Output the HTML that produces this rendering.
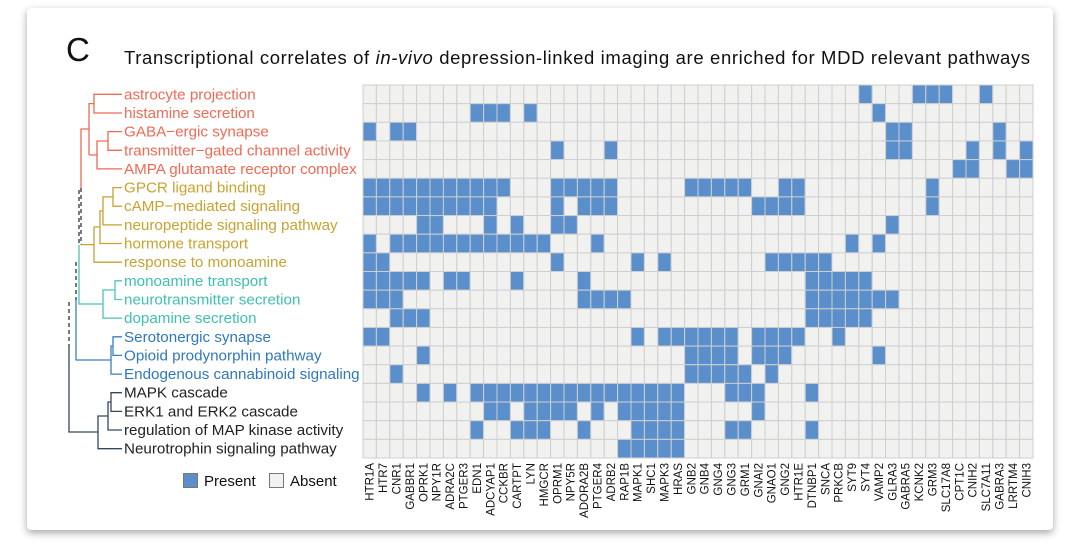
<!DOCTYPE html>
<html><head><meta charset="utf-8"><style>
html,body{margin:0;padding:0;background:#fff;}
body{width:1080px;height:558px;position:relative;overflow:hidden;font-family:"Liberation Sans",sans-serif;}
#card{position:absolute;left:27px;top:8px;width:1026px;height:522px;background:#fff;border-radius:4px;box-shadow:0 3px 8px rgba(0,0,0,.35);}
svg{position:absolute;left:0;top:0;}
</style></head><body>
<div id="card"></div>
<svg id="chart" width="1080" height="558">
<text x="66" y="61" font-size="33" fill="#111">C</text>
<text x="124" y="64" font-size="18.5" fill="#111" textLength="906">Transcriptional correlates of <tspan font-style="italic">in-vivo</tspan> depression-linked imaging are enriched for MDD relevant pathways</text>
<g id="dendro" fill="none" stroke-width="1.3">
<path stroke="#ef6a55" d="M122,94.3H94V113H122M122,131.6H108V150.3H122M108,141H97V168.9H122M97,155H89M94,103.6H89V155M89,129H81V188"/>
<path stroke="#c9a22f" d="M122,187.6H113V206.2H122M113,196.9H103V224.9H122M103,210.9H100V243.5H122M100,227H94V262.2H122M94,244.6H81"/>
<path stroke="#333" stroke-dasharray="4,3" d="M81,188V244.6M79,190V245M76,262V300M69,302V347"/>
<path stroke="#4cc3b5" d="M122,280.8H115V299.5H122M115,290H103V318.1H122M103,304H79V245"/>
<path stroke="#3a7fc0" d="M122,336.8H113V355.4H122M113,346H111V374.1H122M111,360H76V300"/>
<path stroke="#34495e" d="M122,392.7H111V411.4H122M111,402H108V430H122M108,416H98V448.7H122M98,432H69V347"/>
</g>
<g id="rowlabels"></g>
<g id="grid"></g>
<g id="collabels"></g>
<g>
<rect x="183.5" y="473.5" width="14" height="14" fill="#5a8fcb" stroke="#777"/>
<text x="204" y="486" font-size="15" fill="#111">Present</text>
<rect x="269.5" y="473.5" width="14" height="14" fill="#f1f1f0" stroke="#777"/>
<text x="290" y="486" font-size="15" fill="#111">Absent</text>
</g>
</svg>
<script>
const rowNames=["astrocyte projection","histamine secretion","GABA\u2212ergic synapse","transmitter\u2212gated channel activity","AMPA glutamate receptor complex","GPCR ligand binding","cAMP\u2212mediated signaling","neuropeptide signaling pathway","hormone transport","response to monoamine","monoamine transport","neurotransmitter secretion","dopamine secretion","Serotonergic synapse","Opioid prodynorphin pathway","Endogenous cannabinoid signaling","MAPK cascade","ERK1 and ERK2 cascade","regulation of MAP kinase activity","Neurotrophin signaling pathway"];
const rowColors=["#ef6a55","#ef6a55","#ef6a55","#ef6a55","#ef6a55","#c9a22f","#c9a22f","#c9a22f","#c9a22f","#c9a22f","#3fbfb1","#3fbfb1","#3fbfb1","#2f78bd","#2f78bd","#2f78bd","#222","#222","#222","#222"];
const geneNames=["HTR1A","HTR7","CNR1","GABBR1","OPRK1","NPY1R","ADRA2C","PTGER3","EDN1","ADCYAP1","CCKBR","CARTPT","LYN","HMGCR","OPRM1","NPY5R","ADORA2B","PTGER4","ADRB2","RAP1B","MAPK1","SHC1","MAPK3","HRAS","GNB2","GNB4","GNG4","GNG3","GRM1","GNAI2","GNAO1","GNG2","HTR1E","DTNBP1","SNCA","PRKCB","SYT9","SYT4","VAMP2","GLRA3","GABRA5","KCNK2","GRM3","SLC17A8","CPT1C","CNIH2","SLC7A11","GABRA3","LRRTM4","CNIH3"];
// present gene indices per pathway row
const presentCells=[
[37,41,42,43,46],
[8,9,10,12,38],
[0,2,3,39,40,47],
[14,18,39,40,45,47,49],
[44,45,48,49],
[0,1,2,3,4,5,6,7,8,9,10,14,15,16,17,18,24,25,26,27,28,31,32,42],
[0,1,2,3,4,5,6,7,8,9,14,16,17,18,29,30,31,32,42],
[4,5,9,11,14,15,39],
[0,2,3,4,5,6,7,8,9,10,11,12,13,17,36,38],
[0,1,14,20,22,30,31,32,33,34],
[0,1,2,3,4,6,7,11,16,33,34,35,36,37],
[0,1,2,16,17,18,19,33,34,35,36,37,38,39],
[2,3,4,33,34,35,36,37],
[0,1,20,22,23,24,25,26,27,29,30,31,32,35],
[4,24,25,26,27,29,30,31,38],
[2,24,25,26,27,28,30],
[4,6,8,9,10,11,12,13,14,15,16,17,18,19,20,21,22,23,27,28,29,33],
[9,10,12,13,14,15,17,19,20,21,22,23,29],
[8,11,12,13,16,20,21,22,23,27,28,33],
[19,20,21,22,23]
];
const gx=363,gy=85,cw=670/50,ch=373/20;
const xPos=i=>gx+i*cw, yPos=r=>gy+r*ch;
const NS="http://www.w3.org/2000/svg";
const gGrid=document.getElementById('grid'),gRows=document.getElementById('rowlabels'),gCols=document.getElementById('collabels');
rowNames.forEach((n,r)=>{
  const t=document.createElementNS(NS,'text');
  
  
  t.setAttribute('x',124);t.setAttribute('y',yPos(r)+ch/2+5);
  t.setAttribute('font-size','15.2');t.setAttribute('fill',rowColors[r]);
  t.textContent=n;gRows.appendChild(t);
  geneNames.forEach((g,c)=>{
    const on=presentCells[r].includes(c);
    const rc=document.createElementNS(NS,'rect');
    
    
    rc.setAttribute('x',xPos(c));rc.setAttribute('y',yPos(r));
    rc.setAttribute('width',cw);rc.setAttribute('height',ch);
    rc.setAttribute('fill',on?'#5a8fcb':'#f1f1f0');
    rc.setAttribute('stroke','#cfcfcf');rc.setAttribute('stroke-width','1');
    gGrid.appendChild(rc);
  });
});
geneNames.forEach((g,c)=>{
  const t=document.createElementNS(NS,'text');
  
  
  const x=xPos(c)+cw/2+4,y=463;
  t.setAttribute('x',x);t.setAttribute('y',y);
  t.setAttribute('transform','rotate(-90 '+x+' '+y+')');
  t.setAttribute('text-anchor','end');t.setAttribute('font-size','11.5');t.setAttribute('fill','#111');
  t.textContent=g;gCols.appendChild(t);
});
</script>
</body></html>
